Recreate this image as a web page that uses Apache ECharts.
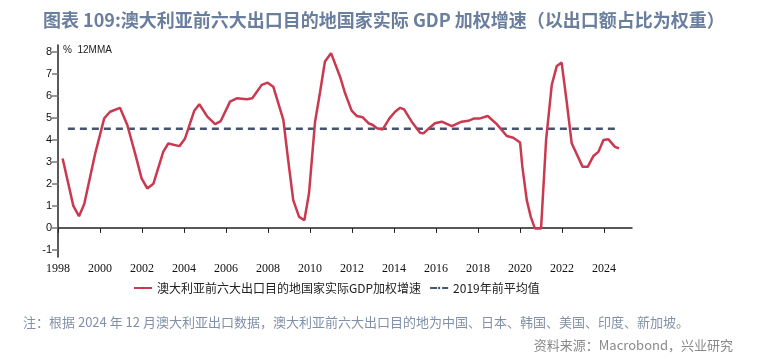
<!DOCTYPE html>
<html>
<head>
<meta charset="utf-8">
<script src="https://cdn.jsdelivr.net/npm/echarts@6/dist/echarts.min.js"></script>
<style>
html,body{margin:0;padding:0;background:#fff;}
#c{width:757px;height:358px;}
</style>
</head>
<body>
<div id="c"></div>
<script>
// Data (decimal year, % 12MMA)
const years = [1998.22,1998.73,1999.0,1999.25,1999.76,2000.2,2000.48,2000.95,2001.3,2001.67,2001.98,2002.25,2002.54,2003.01,2003.25,2003.78,2004.05,2004.49,2004.73,2005.11,2005.48,2005.75,2006.19,2006.51,2007.0,2007.25,2007.7,2007.98,2008.25,2008.73,2008.94,2009.2,2009.48,2009.73,2009.95,2010.24,2010.48,2010.71,2011.0,2011.43,2011.67,2011.98,2012.22,2012.51,2012.78,2012.99,2013.18,2013.46,2013.78,2014.05,2014.29,2014.48,2014.84,2015.24,2015.4,2015.71,2015.95,2016.27,2016.75,2017.22,2017.54,2017.82,2018.1,2018.46,2018.89,2019.37,2019.68,2020.0,2020.11,2020.32,2020.51,2020.71,2021.0,2021.24,2021.51,2021.75,2021.98,2022.22,2022.46,2022.98,2023.22,2023.49,2023.73,2023.97,2024.21,2024.52,2024.71];
const growth = [3.15,1.0,0.53,1.08,3.33,4.97,5.27,5.45,4.67,3.38,2.25,1.79,2.0,3.45,3.83,3.71,4.06,5.32,5.61,5.05,4.71,4.85,5.73,5.88,5.84,5.88,6.49,6.59,6.41,4.9,3.23,1.26,0.5,0.35,1.56,4.82,6.18,7.55,7.93,6.86,6.11,5.32,5.08,5.02,4.75,4.67,4.52,4.47,4.97,5.27,5.45,5.38,4.82,4.32,4.29,4.56,4.75,4.82,4.62,4.82,4.86,4.97,4.97,5.08,4.71,4.17,4.09,3.88,2.77,1.26,0.5,-0.03,-0.03,3.99,6.49,7.35,7.5,5.73,3.84,2.77,2.77,3.26,3.45,3.99,4.02,3.68,3.61];
const avgYears = [1998.47, 2024.71];
const avgValue = 4.5;
const xTicks = [1998,2000,2002,2004,2006,2008,2010,2012,2014,2016,2018,2020,2022,2024];
const yTicks = [-1,0,1,2,3,4,5,6,7,8];
const seriesNames = ['澳大利亚前六大出口目的地国家实际GDP加权增速', '2019年前平均值'];

const chart = echarts.init(document.getElementById('c'), null, {renderer:'canvas'});
chart.setOption({
  animation: false,
  backgroundColor: '#fff',
  title: [
    {text: '图表 109:澳大利亚前六大出口目的地国家实际 GDP 加权增速（以出口额占比为权重）',
     left: 38, top: 6,
     textStyle: {fontFamily: 'Noto Sans CJK SC', fontSize: 18, fontWeight: 'bold', color: '#6A7E9E'}},
    {text: '注：根据 2024 年 12 月澳大利亚出口数据，澳大利亚前六大出口目的地为中国、日本、韩国、美国、印度、新加坡。',
     left: 18, top: 311,
     textStyle: {fontFamily: 'Noto Sans CJK SC', fontSize: 13, fontWeight: 'normal', color: '#8190A8'}},
    {text: '资料来源：Macrobond，兴业研究',
     right: 19, top: 334,
     textStyle: {fontFamily: 'Noto Sans CJK SC', fontSize: 13, fontWeight: 'normal', color: '#8A8A8A'}}
  ],
  graphic: [
    {type: 'text', left: 63, top: 45, style: {text: '%  12MMA', font: '10px "Liberation Sans"', fill: '#222'}}
  ],
  legend: {
    top: 277, left: 128,
    itemWidth: 18, itemHeight: 3, itemGap: 8,
    textStyle: {fontFamily: 'Noto Sans CJK SC', fontSize: 12, color: '#222'},
    data: seriesNames
  },
  grid: {left: 58, right: 125, top: 45, bottom: 101, containLabel: false},
  xAxis: {
    type: 'value', min: 1998, max: 2025.33,
    axisLine: {show: true, lineStyle: {color: '#222', width: 1.5}},
    axisTick: {show: true, length: 5, lineStyle: {color: '#222'}, customValues: xTicks},
    axisLabel: {customValues: xTicks, formatter: v => String(v), fontFamily: 'Liberation Serif', fontSize: 12, color: '#111', margin: 6},
    splitLine: {show: false}
  },
  yAxis: {
    type: 'value', min: -1.32, max: 8.3,
    axisLine: {show: true, lineStyle: {color: '#222', width: 1.5}},
    axisTick: {show: true, length: 6, lineStyle: {color: '#777', width: 1.5}, customValues: yTicks},
    axisLabel: {customValues: yTicks, fontFamily: 'Liberation Sans', fontSize: 11, color: '#111', margin: 6},
    splitLine: {show: false}
  },
  series: [
    {name: seriesNames[0], type: 'line', symbol: 'none', z: 3,
     data: years.map((y, i) => [y, growth[i]]),
     lineStyle: {color: '#C9394F', width: 2.5}, itemStyle: {color: '#C9394F'}},
    {name: seriesNames[1], type: 'line', symbol: 'none', z: 2,
     data: avgYears.map(y => [y, avgValue]),
     lineStyle: {color: '#46556F', width: 2.5, type: [7, 5]}, itemStyle: {color: '#46556F'}}
  ]
});
</script>
</body>
</html>
